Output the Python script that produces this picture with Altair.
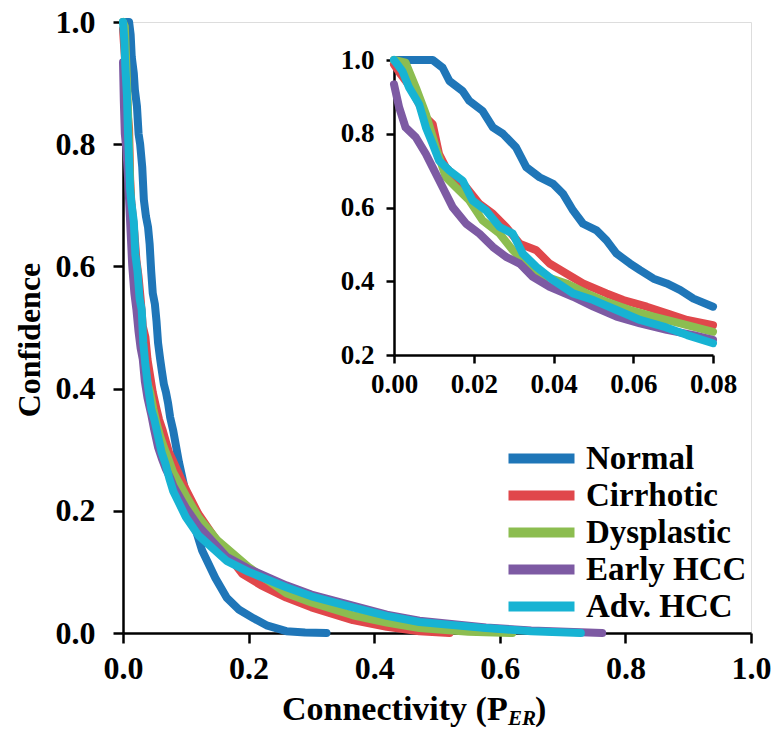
import altair as alt
import pandas as pd

series = ["Normal", "Cirrhotic", "Dysplastic", "Early HCC", "Adv. HCC"]
colors = ["#1f76b8", "#e0474b", "#8cbd50", "#7d5aa3", "#17b3d3"]

normal_x = [0, 0.0097, 0.0122, 0.0139, 0.0172, 0.0189, 0.0222, 0.0248, 0.0273, 0.0306, 0.0332, 0.0365,
            0.0399, 0.0424, 0.0449, 0.0474, 0.0508, 0.0533, 0.0558, 0.0592, 0.0617, 0.0651, 0.0684,
            0.0718, 0.0751, 0.08, 0.089, 0.105, 0.126, 0.147, 0.165, 0.185, 0.208, 0.23, 0.26, 0.29, 0.324]
normal_y = [1.0, 1.0, 0.979, 0.943, 0.916, 0.889, 0.862, 0.817, 0.80, 0.763, 0.709, 0.682,
            0.664, 0.637, 0.592, 0.556, 0.538, 0.511, 0.475, 0.448, 0.430, 0.407, 0.394,
            0.376, 0.353, 0.331, 0.28, 0.205, 0.135, 0.09, 0.058, 0.038, 0.024, 0.012, 0.003, 0.001, 0.0]

cirr_x = [0, 0.0017, 0.0042, 0.0063, 0.008, 0.0097, 0.0113, 0.013, 0.0155, 0.0181, 0.0214, 0.0248,
          0.0281, 0.0315, 0.0357, 0.039, 0.0432, 0.0474, 0.0533, 0.0575, 0.0634, 0.0684, 0.0735,
          0.08, 0.1, 0.12, 0.15, 0.19, 0.22, 0.26, 0.3, 0.366, 0.42, 0.472, 0.52]
cirr_y = [0.988, 0.961, 0.925, 0.88, 0.844, 0.826, 0.745, 0.709, 0.682, 0.655, 0.61, 0.583,
          0.547, 0.502, 0.484, 0.448, 0.421, 0.394, 0.367, 0.349, 0.331, 0.313, 0.295,
          0.281, 0.235, 0.195, 0.15, 0.097, 0.078, 0.058, 0.042, 0.021, 0.01, 0.003, 0.0]

dysp_x = [0, 0.0029, 0.0055, 0.008, 0.0105, 0.013, 0.0155, 0.0189, 0.0222, 0.0265, 0.0298, 0.034,
          0.0382, 0.0432, 0.0483, 0.0533, 0.0592, 0.0651, 0.0718, 0.08, 0.1, 0.12, 0.15, 0.2,
          0.26, 0.3, 0.366, 0.42, 0.472, 0.55, 0.62]
dysp_y = [1.0, 0.993, 0.925, 0.853, 0.763, 0.682, 0.655, 0.619, 0.565, 0.529, 0.484, 0.439,
          0.412, 0.394, 0.367, 0.344, 0.322, 0.304, 0.286, 0.263, 0.225, 0.19, 0.152, 0.108,
          0.065, 0.05, 0.029, 0.017, 0.008, 0.002, 0.0]

early_x = [0, 0.0013, 0.0029, 0.0055, 0.008, 0.0097, 0.0122, 0.0147, 0.0181, 0.0214, 0.0248, 0.0281,
           0.0315, 0.0348, 0.039, 0.0449, 0.05, 0.0558, 0.0617, 0.0684, 0.0751, 0.08, 0.1, 0.12,
           0.165, 0.2, 0.26, 0.3, 0.366, 0.42, 0.472, 0.578, 0.65, 0.763]
early_y = [0.934, 0.871, 0.817, 0.79, 0.745, 0.709, 0.655, 0.601, 0.556, 0.529, 0.493, 0.466,
           0.448, 0.412, 0.385, 0.358, 0.331, 0.304, 0.286, 0.268, 0.254, 0.241, 0.205, 0.175,
           0.125, 0.105, 0.078, 0.063, 0.045, 0.03, 0.02, 0.009, 0.004, 0.0]

adv_x = [0, 0.0021, 0.0038, 0.0063, 0.008, 0.0097, 0.0113, 0.0139, 0.0172, 0.0197, 0.0231, 0.0265,
         0.0298, 0.0323, 0.0357, 0.0399, 0.0449, 0.05, 0.0558, 0.0617, 0.0676, 0.0735, 0.08, 0.1,
         0.12, 0.165, 0.2, 0.26, 0.3, 0.366, 0.42, 0.472, 0.578, 0.65, 0.729]
adv_y = [1.0, 0.970, 0.925, 0.88, 0.817, 0.772, 0.727, 0.70, 0.673, 0.619, 0.592, 0.547,
         0.529, 0.475, 0.439, 0.403, 0.367, 0.349, 0.322, 0.295, 0.277, 0.254, 0.232, 0.19,
         0.16, 0.118, 0.1, 0.075, 0.06, 0.042, 0.028, 0.018, 0.008, 0.003, 0.0]

main_ticks = [0, 0.2, 0.4, 0.6, 0.8, 1.0]
inset_x_ticks = [0, 0.02, 0.04, 0.06, 0.08]
inset_y_ticks = [0.2, 0.4, 0.6, 0.8, 1.0]

y_title = "Confidence"
x_title_parts = ["Connectivity (P", "ER", ")"]

rows = []
for name, xs, ys in zip(series, [normal_x, cirr_x, dysp_x, early_x, adv_x],
                        [normal_y, cirr_y, dysp_y, early_y, adv_y]):
    for i, (xv, yv) in enumerate(zip(xs, ys)):
        rows.append({"series": name, "x": xv, "y": yv, "order": i})
df = pd.DataFrame(rows)

W, H = 628, 611
FONT = "Liberation Serif"

color_scale = alt.Scale(domain=series, range=colors)

axis_common = dict(
    title=None, grid=False, domainColor="black", domainWidth=2.5, tickColor="black",
    tickWidth=2.5, labelFont=FONT, labelFontWeight="bold", labelColor="black",
    labelFlush=False, labelOverlap=False,
)

main = alt.Chart(df).mark_line(strokeWidth=8, strokeJoin="round", strokeCap="round").encode(
    x=alt.X("x:Q", scale=alt.Scale(domain=[0, 1], nice=False),
            axis=alt.Axis(values=main_ticks, format=".1f", labelFontSize=32, tickSize=10,
                          labelPadding=10, **axis_common)),
    y=alt.Y("y:Q", scale=alt.Scale(domain=[0, 1], nice=False),
            axis=alt.Axis(values=main_ticks, format=".1f", labelFontSize=32, tickSize=10,
                          labelPadding=18, **axis_common)),
    color=alt.Color("series:N", scale=color_scale, sort=series,
                    legend=alt.Legend(orient="none", legendX=402, legendY=420, title=None,
                                      symbolType="M-3,0H3", symbolSize=484, symbolStrokeWidth=10,
                                      labelFont=FONT, labelFontWeight="bold", labelFontSize=33,
                                      labelColor="black", labelOffset=28, rowPadding=-7,
                                      labelLimit=400, padding=0)),
    order="order:Q",
)

inset = alt.Chart(df).transform_filter("datum.x <= 0.0801").mark_line(
    strokeWidth=8, strokeJoin="round", strokeCap="round").encode(
    x=alt.X("x:Q", scale=alt.Scale(domain=[0, 0.08], range=[271, 590], nice=False),
            axis=alt.Axis(orient="bottom", offset=-278, values=inset_x_ticks, format=".2f",
                          labelFontSize=27, tickSize=8, labelPadding=8, **axis_common)),
    y=alt.Y("y:Q", scale=alt.Scale(domain=[0.2, 1.0], range=[333, 38], nice=False),
            axis=alt.Axis(orient="left", offset=-271, values=inset_y_ticks, format=".1f",
                          labelFontSize=27, tickSize=8, labelPadding=12, **axis_common)),
    color=alt.Color("series:N", scale=color_scale, sort=series, legend=None),
    order="order:Q",
)

one = pd.DataFrame({"k": [0]})
ytitle = alt.Chart(one).mark_text(font=FONT, fontWeight="bold", fontSize=32, angle=270,
                                  align="center", baseline="alphabetic", color="black").encode(
    x=alt.value(-83), y=alt.value(318), text=alt.value(y_title))
xt1 = alt.Chart(one).mark_text(font=FONT, fontWeight="bold", fontSize=34, align="left",
                               baseline="alphabetic", color="black").encode(
    x=alt.value(159), y=alt.value(698), text=alt.value(x_title_parts[0]))
xt2 = alt.Chart(one).mark_text(font=FONT, fontWeight="bold", fontStyle="italic", fontSize=21,
                               align="left", baseline="alphabetic", color="black").encode(
    x=alt.value(385), y=alt.value(703), text=alt.value(x_title_parts[1]))
xt3 = alt.Chart(one).mark_text(font=FONT, fontWeight="bold", fontSize=34, align="left",
                               baseline="alphabetic", color="black").encode(
    x=alt.value(412), y=alt.value(698), text=alt.value(x_title_parts[2]))

chart = alt.layer(main, inset, ytitle, xt1, xt2, xt3).resolve_scale(
    x="independent", y="independent", color="shared"
).properties(
    width=W, height=H, autosize="none",
    padding={"left": 115, "top": 14, "right": 21, "bottom": 98},
).configure_view(stroke="black", strokeWidth=2.5).configure(background="white")

chart.save("out.html", embed_options={"renderer": "svg", "actions": False})
